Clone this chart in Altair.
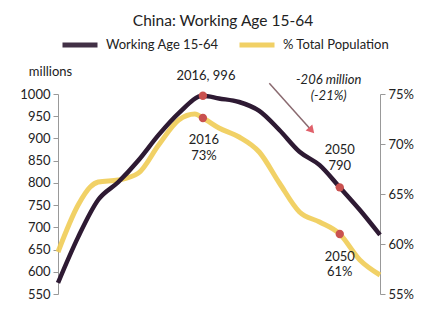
import altair as alt
import pandas as pd

years = [1980, 1985, 1990, 1995, 2000, 2005, 2010, 2016, 2020, 2025, 2030, 2035, 2040, 2045, 2050, 2055, 2060]
working_age = [575, 678, 762, 802, 851, 908, 957, 996, 990, 982, 962, 919, 870, 840, 790, 739, 683]
pct_years = [1980, 1985, 1988, 1990, 1995, 2000, 2005, 2010, 2014, 2016, 2020, 2025, 2030, 2035, 2040, 2045, 2050, 2055, 2060]
pct_total = [59.2, 63.9, 65.7, 66.2, 66.4, 67.1, 69.9, 72.4, 73.0, 72.6, 71.6, 70.7, 69.2, 66.1, 63.2, 62.2, 61.0, 58.4, 56.9]

series_names = ["Working Age 15-64", "% Total Population"]
series_colors = ["#2e1a33", "#f0cc55"]

FONT = "Lato"
TXT = "#222222"

df_w = pd.DataFrame({"year": years, "value": working_age, "series": series_names[0]})
df_p = pd.DataFrame({"year": pct_years, "value": pct_total, "series": series_names[1]})

xs = alt.Scale(domain=[1980, 2060], nice=False)
x = alt.X("year:Q", scale=xs,
          axis=alt.Axis(values=list(range(1980, 2061, 10)), format="d", title=None, grid=False,
                        domainColor="#999999", tickColor="#999999", tickSize=5,
                        labelFont=FONT, labelFontSize=13, labelColor=TXT, labelPadding=3))

color = alt.Color("series:N", scale=alt.Scale(domain=series_names, range=series_colors),
                  legend=alt.Legend(orient="none", legendX=2, legendY=-69, direction="horizontal",
                                    title=None, symbolType="stroke", symbolSize=1225,
                                    symbolStrokeWidth=5, labelFont=FONT, labelFontSize=13,
                                    labelColor=TXT, columnPadding=10, labelOffset=6))

yl_scale = alt.Scale(domain=[550, 1000], nice=False, zero=False)
yr_scale = alt.Scale(domain=[55, 75], nice=False, zero=False)

line_w = alt.Chart(df_w).mark_line(strokeWidth=4.5, interpolate="monotone").encode(
    x=x,
    y=alt.Y("value:Q", scale=yl_scale,
            axis=alt.Axis(values=list(range(550, 1001, 50)), format="d", grid=False, title="millions",
                          titleAngle=0, titleX=-8, titleY=-16, titleAlign="center",
                          titleFont=FONT, titleFontSize=13, titleFontWeight="normal", titleColor=TXT,
                          domainColor="#999999", tickColor="#999999", tickSize=5,
                          labelFont=FONT, labelFontSize=13, labelColor=TXT, labelPadding=3)),
    color=color,
)

line_p = alt.Chart(df_p).mark_line(strokeWidth=5, interpolate="monotone", opacity=0.9).encode(
    x=alt.X("year:Q", scale=xs, axis=None),
    y=alt.Y("value:Q", scale=yr_scale,
            axis=alt.Axis(orient="right", values=[55, 60, 65, 70, 75], grid=False, title=None,
                          labelExpr="datum.value + '%'",
                          domainColor="#999999", tickColor="#999999", tickSize=5,
                          labelFont=FONT, labelFontSize=13, labelColor=TXT, labelPadding=3)),
    color=color,
)

dots_w = alt.Chart(pd.DataFrame({"year": [2016, 2050], "value": [996, 790]})).mark_circle(
    size=70, color="#c9514f", opacity=1).encode(
    x=alt.X("year:Q", scale=xs, axis=None),
    y=alt.Y("value:Q", scale=yl_scale, axis=None))

dots_p = alt.Chart(pd.DataFrame({"year": [2016, 2050], "value": [72.6, 61.0]})).mark_circle(
    size=70, color="#c9514f", opacity=1).encode(
    x=alt.X("year:Q", scale=xs, axis=None),
    y=alt.Y("value:Q", scale=yr_scale, axis=None))

ann_text = ["2016, 996", "2016", "73%", "2050", "790", "2050", "61%"]
ann_x = [2016.75, 2016.25, 2016.25, 2050.0, 2050.0, 2050.0, 2050.0]
ann_y = [1040, 897, 861, 873, 838, 633, 599]
ann = alt.Chart(pd.DataFrame({"t": ann_text, "year": ann_x, "value": ann_y})).mark_text(
    font=FONT, fontSize=13, color=TXT, clip=False).encode(
    x=alt.X("year:Q", scale=xs, axis=None),
    y=alt.Y("value:Q", scale=yl_scale, axis=None), text="t:N")

ital_text = ["-206 million", "(-21%)"]
ital = alt.Chart(pd.DataFrame({"t": ital_text, "year": [2047.25, 2047.25], "value": [1032, 996]})).mark_text(
    font=FONT, fontSize=13, fontStyle="italic", color=TXT, clip=False).encode(
    x=alt.X("year:Q", scale=xs, axis=None),
    y=alt.Y("value:Q", scale=yl_scale, axis=None), text="t:N")

arrow_df = pd.DataFrame({"year": [2032.5], "value": [1024], "year2": [2043.0], "value2": [918]})
arrow = alt.Chart(arrow_df).mark_rule(color="#8a6a70", strokeWidth=1.5, clip=False).encode(
    x=alt.X("year:Q", scale=xs, axis=None),
    y=alt.Y("value:Q", scale=yl_scale, axis=None),
    x2="year2:Q", y2="value2:Q")
head = alt.Chart(arrow_df).mark_point(shape="triangle-down", filled=True, size=80,
                                      color="#e0606a", angle=318, opacity=1).encode(
    x=alt.X("year2:Q", scale=xs, axis=None),
    y=alt.Y("value2:Q", scale=yl_scale, axis=None))

chart = alt.layer(line_p, line_w, dots_w, dots_p, ann, ital, arrow, head).resolve_scale(
    y="independent"
).properties(
    width=322, height=200,
    title=alt.TitleParams("China: Working Age 15-64", font=FONT, fontSize=15.5, fontWeight="normal",
                          color=TXT, anchor="middle", offset=6, dy=10, dx=4),
    padding={"left": 58, "top": 94, "right": 47, "bottom": 32},
    autosize=alt.AutoSizeParams(type="none"),
    background="white",
).configure_view(stroke=None)

chart.save("out.html", embed_options={"renderer": "svg", "actions": False})
